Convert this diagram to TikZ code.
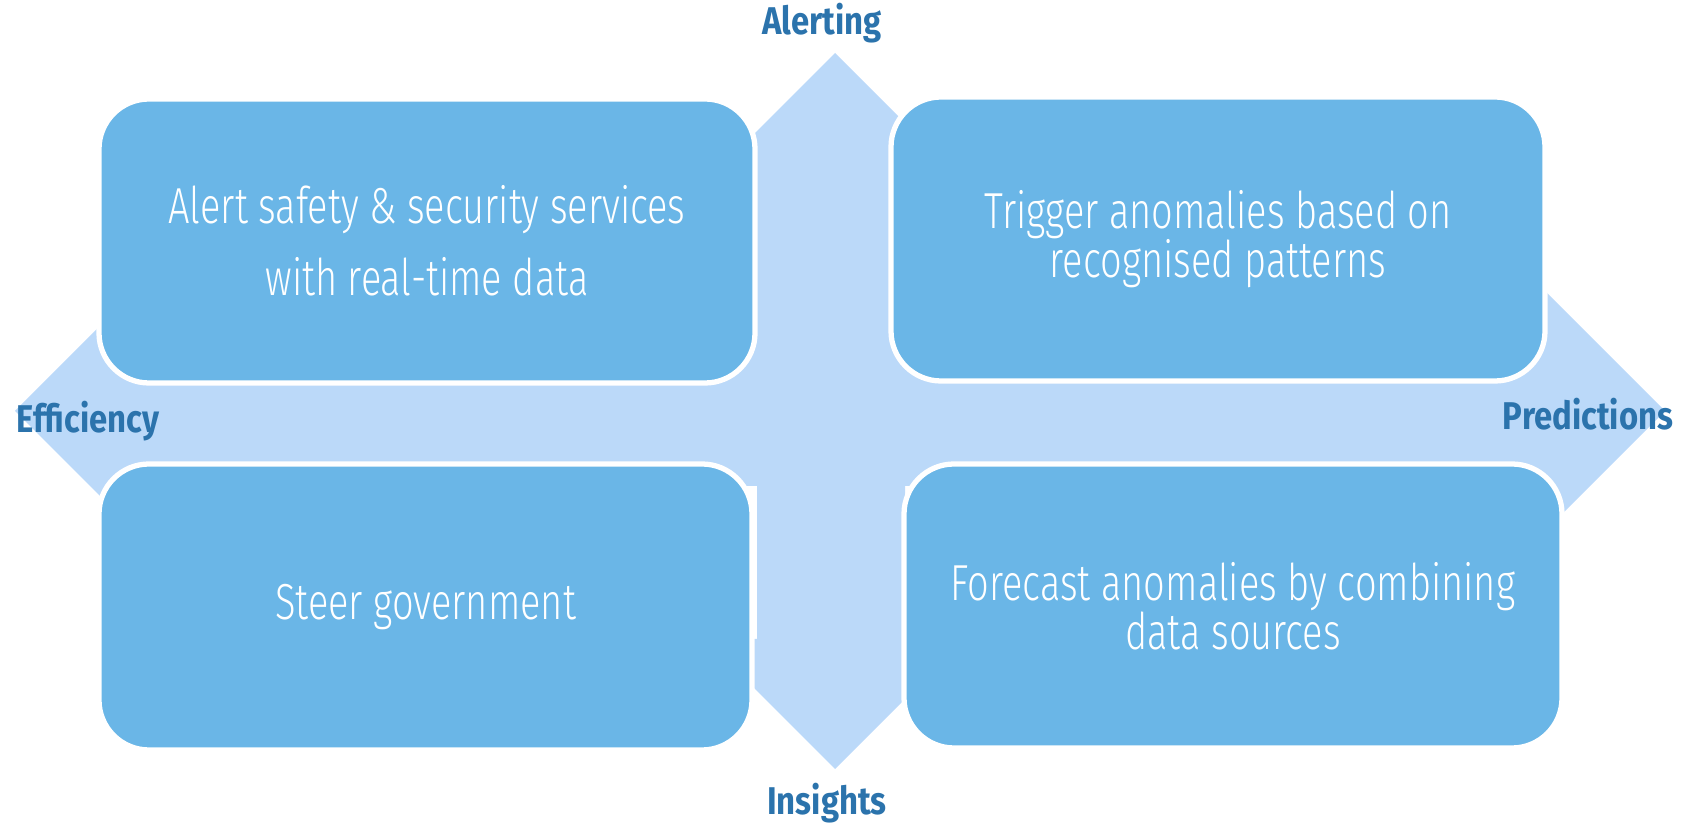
\documentclass[tikz,border=0pt]{standalone}
\usepackage{fontspec}
\setmainfont{Fira Sans}
\newfontfamily\boxfont{Fira Sans Light}[FakeStretch = 0.75]
\newfontfamily\labelfont{Fira Sans}[FakeStretch = 0.85]
\definecolor{boxblue}{HTML}{6AB6E7}
\definecolor{arrowblue}{HTML}{BBD9F9}
\definecolor{labelblue}{HTML}{2B73AC}
\tikzset{
	quadbox/.style = {draw = white, line width = 1.5pt, fill = boxblue, rounded corners = 0.5cm, text = white, align = center, inner sep = 0pt, font = \boxfont\fontsize{14.4}{13.8}\selectfont},
	axislabel/.style = {text = labelblue, anchor = base, inner sep = 0pt, font = \labelfont\bfseries\fontsize{11}{13}\selectfont}
}

\begin{document}
\begin{tikzpicture}

	\useasboundingbox (0, 0) rectangle (16.92, 8.23);

	% Arrow
	
	\fill [arrowblue] (8.35, 7.70) -- (9.65, 6.40) -- (9.05, 6.40) -- (9.05, 4.87) -- (15.15, 4.87) -- (15.15, 5.62) -- (16.65, 4.12) -- (15.15, 2.62) -- (15.15, 3.37) -- (9.05, 3.37) -- (9.05, 1.84) -- (9.65, 1.84) -- (8.35, 0.54) -- (7.05, 1.84) -- (7.57, 1.84) -- (7.57, 3.37) -- (1.65, 3.37) -- (1.65, 2.62) -- (0.15, 4.12) -- (1.65, 5.62) -- (1.65, 4.87) -- (7.57, 4.87) -- (7.57, 6.40) -- (7.05, 6.40) -- cycle;
	
	% Boxes
	
	\node [quadbox, minimum width = 6.56cm, minimum height = 2.84cm] (alert) at (4.27, 5.82) {Alert safety \& security services\\[6.6pt] with real-time data};
	\node [quadbox, minimum width = 6.54cm, minimum height = 2.84cm] (trigger) at (12.18, 5.84) {Trigger anomalies based on\\ recognised patterns};
	\node [quadbox, minimum width = 6.53cm, minimum height = 2.86cm] (steer) at (4.255, 2.16) {Steer government};
	\node [quadbox, minimum width = 6.58cm, minimum height = 2.84cm] (forecast) at (12.33, 2.17) {Forecast anomalies by combining\\ data sources};
	
	% Labels
	
	\node [axislabel] (alerting) at (8.22, 7.88) {Alerting};
	\node [axislabel] (efficiency) at (0.88, 3.90) {Efficiency};
	\node [axislabel] (predictions) at (15.88, 3.93) {Predictions};
	\node [axislabel] (insights) at (8.27, 0.08) {Insights};

\end{tikzpicture}
\end{document}
